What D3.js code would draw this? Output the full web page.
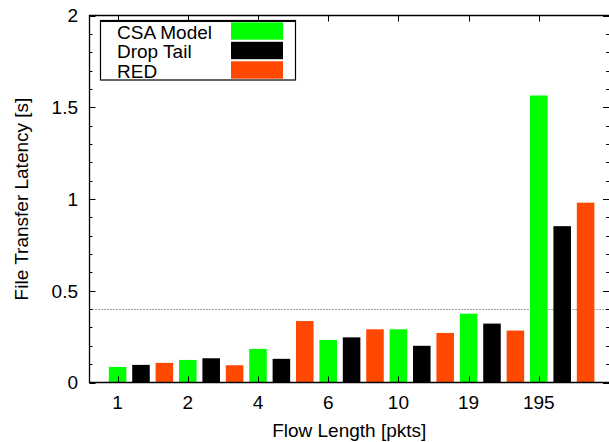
<!DOCTYPE html>
<html>
<head>
<meta charset="utf-8">
<script src="https://cdn.jsdelivr.net/npm/d3@7"></script>
<style>
  body { margin: 0; background: #fff; }
  svg text { font-family: "Liberation Sans", Arial, Helvetica, sans-serif; font-size: 19px; fill: #000; }
</style>
</head>
<body>
<div id="chart"></div>
<script>
const flowLengths = ['1', '2', '4', '6', '10', '19', '195']
const csaModel = [0.085, 0.123, 0.183, 0.232, 0.29, 0.375, 1.564]
const dropTail = [0.096, 0.132, 0.129, 0.246, 0.2, 0.321, 0.852]
const red = [0.107, 0.094, 0.335, 0.29, 0.27, 0.283, 0.98]
const seriesNames = ['CSA Model', 'Drop Tail', 'RED']
const seriesColors = ['#00ff00', '#000000', '#ff4800']
const yMajorTicks = [0, 0.5, 1, 1.5, 2]
const refLine = 0.4

const width = 609
const height = 442
const margin = { left: 89.5, right: 0, top: 15.5, bottom: 59.5 }

const svg = d3.select('#chart')
  .append('svg')
  .attr('width', width)
  .attr('height', height)

// gnuplot style: groups at 1..7, xrange [0.6:8], bars offset by 1/3
const x = d3.scaleLinear()
  .domain([0.6, 8])
  .range([margin.left, width - margin.right])
const y = d3.scaleLinear()
  .domain([0, 2])
  .range([height - margin.bottom, margin.top])

const boxWidth = 0.25
const series = [csaModel, dropTail, red]
const bars = []
series.forEach((values, s) => {
  values.forEach((v, g) => bars.push({ g, s, v, pos: g + 1 + s / 3 }))
})

// dotted reference line sits beneath the bars
svg.append('line')
  .attr('x1', x.range()[0]).attr('x2', x.range()[1])
  .attr('y1', Math.round(y(refLine)) + 0.5).attr('y2', Math.round(y(refLine)) + 0.5)
  .attr('stroke', '#444')
  .attr('stroke-width', 1)
  .attr('stroke-dasharray', '1,2')

svg.append('g').attr('id', 'bars')
  .selectAll('rect')
  .data(bars)
  .enter()
  .append('rect')
    .attr('x', d => x(d.pos - boxWidth / 2))
    .attr('width', d => x(d.pos + boxWidth / 2) - x(d.pos - boxWidth / 2))
    .attr('y', d => y(d.v))
    .attr('height', d => y(0) - y(d.v))
    .attr('fill', d => seriesColors[d.s])

// minor ticks every 0.1 on both y sides
const yMinor = d3.range(0, 21).map(i => i / 10)
const axisG = svg.append('g')
  .attr('stroke', '#000')
  .attr('stroke-width', 1)

yMinor.forEach(t => {
  const major = Math.abs(t * 2 - Math.round(t * 2)) < 1e-6
  const len = major ? 6 : 3
  const yy = Math.round(y(t)) + 0.5
  axisG.append('line').attr('x1', x.range()[0]).attr('x2', x.range()[0] + len).attr('y1', yy).attr('y2', yy)
  axisG.append('line').attr('x1', x.range()[1]).attr('x2', x.range()[1] - len).attr('y1', yy).attr('y2', yy)
})

flowLengths.forEach((label, g) => {
  const xx = Math.round(x(g + 1)) + 0.5
  axisG.append('line').attr('x1', xx).attr('x2', xx).attr('y1', y(2)).attr('y2', y(2) + 6)
  axisG.append('line').attr('x1', xx).attr('x2', xx).attr('y1', y(0)).attr('y2', y(0) - 6)
})

// frame (right side falls just off the canvas)
const x0 = x.range()[0]
const x1 = x.range()[1]
svg.append('path')
  .attr('d', `M${x1},${y(2)}H${x0}V${y(0)}H${x1}`)
  .attr('fill', 'none')
  .attr('stroke', '#000')
  .attr('stroke-width', 1.3)

// tick labels
svg.append('g')
  .selectAll('text')
  .data(yMajorTicks)
  .enter()
  .append('text')
    .attr('x', 78)
    .attr('y', d => y(d))
    .attr('dy', '0.36em')
    .attr('text-anchor', 'end')
    .text(d => d)

svg.append('g')
  .selectAll('text')
  .data(flowLengths)
  .enter()
  .append('text')
    .attr('x', (d, i) => x(i + 1))
    .attr('y', 409)
    .attr('text-anchor', 'middle')
    .text(d => d)

// axis titles
svg.append('text')
  .attr('x', (x0 + x1) / 2)
  .attr('y', 437)
  .attr('text-anchor', 'middle')
  .text('Flow Length [pkts]')

svg.append('text')
  .attr('transform', `translate(28,${(y(0) + y(2)) / 2}) rotate(-90)`)
  .attr('text-anchor', 'middle')
  .text('File Transfer Latency [s]')

// legend
const legend = svg.append('g').attr('id', 'legend')
legend.append('rect')
  .attr('x', 100.5).attr('y', 20.5)
  .attr('width', 195).attr('height', 59.5)
  .attr('fill', '#fff')
  .attr('stroke', '#000')
  .attr('stroke-width', 1.2)
legend.append('line')
  .attr('x1', 100.5).attr('x2', 295.5)
  .attr('y1', 21).attr('y2', 21)
  .attr('stroke', '#000').attr('stroke-width', 2)

seriesNames.forEach((name, i) => {
  const cy = 31 + i * 19.5
  legend.append('text')
    .attr('x', 117)
    .attr('y', cy + 7.5)
    .text(name)
  legend.append('rect')
    .attr('x', 231).attr('y', cy - 8.7)
    .attr('width', 52).attr('height', 17.4)
    .attr('fill', seriesColors[i])
})
</script>
</body>
</html>
